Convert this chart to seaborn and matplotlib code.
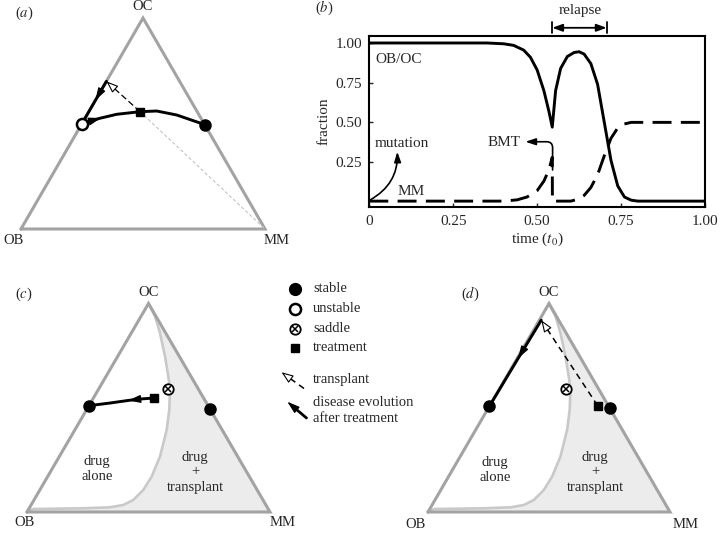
import numpy as np
import pandas as pd
import matplotlib
matplotlib.use("Agg")
import matplotlib.pyplot as plt
import matplotlib.transforms as mtransforms
import seaborn as sns

# ---------------- panel (b) data ----------------
t_obc = [0, 0.35, 0.40, 0.43, 0.46, 0.48, 0.50, 0.52, 0.535, 0.545, 0.555, 0.57,
         0.59, 0.61, 0.625, 0.64, 0.66, 0.68, 0.70, 0.72, 0.74, 0.76, 0.78, 0.80, 1.0]
y_obc = [1.0, 1.0, 0.995, 0.985, 0.955, 0.91, 0.83, 0.70, 0.57, 0.47, 0.70, 0.84,
         0.915, 0.94, 0.945, 0.93, 0.87, 0.74, 0.50, 0.26, 0.10, 0.03, 0.01, 0.004, 0.004]
t_mm = [0, 0.40, 0.44, 0.47, 0.50, 0.52, 0.535, 0.545, 0.5455, 0.60, 0.62, 0.64,
        0.66, 0.68, 0.70, 0.72, 0.74, 0.76, 0.78, 1.0]
y_mm = [0.004, 0.004, 0.012, 0.03, 0.07, 0.13, 0.20, 0.28, 0.004, 0.004, 0.015, 0.04,
        0.09, 0.17, 0.29, 0.40, 0.465, 0.49, 0.50, 0.50]
b_xticks = [0, 0.25, 0.5, 0.75, 1.0]
b_xticklabels = ["0", "0.25", "0.50", "0.75", "1.00"]
b_yticks = [0.25, 0.5, 0.75, 1.0]
b_yticklabels = ["0.25", "0.50", "0.75", "1.00"]
relapse_start, relapse_end = 0.545, 0.707

# ---------------- ternary data (OC fraction, MM fraction) ----------------
a_unstable = (0.50, 0.0)
a_stable = (0.495, 0.505)
a_treat = (0.556, 0.21)
a_tip = (0.70, 0.0)
a_traj_oc = [0.50, 0.525, 0.5436, 0.556, 0.5592, 0.5403, 0.5133, 0.495]
a_traj_mm = [0.0, 0.0615, 0.1204, 0.21, 0.2765, 0.368, 0.4495, 0.505]
a_edge_oc = [0.70, 0.61, 0.50]
a_edge_mm = [0.0, 0.0, 0.0]

sep_oc = [1.0, 0.939, 0.859, 0.7466, 0.6505, 0.5865, 0.4904, 0.394, 0.266, 0.17,
          0.1058, 0.0577, 0.0337, 0.0226, 0.0178, 0.0144, 0.006]
sep_mm = [0.0, 0.0572, 0.1177, 0.1946, 0.2563, 0.2952, 0.3404, 0.3779, 0.4143, 0.428,
          0.4257, 0.4086, 0.3795, 0.330, 0.2228, 0.019, 0.0]

c_stable_l = (0.51, 0.0)
c_stable_r = (0.495, 0.505)
c_treat = (0.5466, 0.249)
c_saddle = (0.59, 0.2865)
c_traj_oc = [0.5466, 0.5418, 0.535, 0.5226, 0.51]
c_traj_mm = [0.249, 0.194, 0.149, 0.080, 0.0]

d_stable_l = (0.508, 0.0)
d_stable_r = (0.497, 0.503)
d_treat = (0.51, 0.446)
d_saddle = (0.5885, 0.2765)
d_tip = (0.92, 0.008)
d_traj_oc = [0.92, 0.737, 0.508]
d_traj_mm = [0.008, 0.004, 0.0]

legend_labels = ["stable", "unstable", "saddle", "treatment"]

# ---------------- style ----------------
sns.set_style("ticks")
plt.rcParams["font.family"] = ["Liberation Serif", "DejaVu Serif"]
plt.rcParams["mathtext.fontset"] = "stix"
FS = 10.5
EDGE = "#a3a3a3"
SEPC = "#c9c9c9"
FILLC = "#ececec"

fig = plt.figure(figsize=(7.21, 5.33), dpi=100)
ax0 = fig.add_axes([0, 0, 1, 1])
ax0.set_xlim(0, 721)
ax0.set_ylim(533, 0)
ax0.axis("off")

TRI_A = dict(OB=(21, 229), MM=(265, 229), OC=(143, 18))
TRI_C = dict(OB=(27, 512), MM=(270, 512), OC=(148.5, 303.5))
TRI_D = dict(OB=(428, 512), MM=(670, 512), OC=(549, 303.5))


def to_xy(tri, oc, mm):
    oc = np.asarray(oc, float)
    mm = np.asarray(mm, float)
    ob = 1 - oc - mm
    x = ob * tri["OB"][0] + oc * tri["OC"][0] + mm * tri["MM"][0]
    y = ob * tri["OB"][1] + oc * tri["OC"][1] + mm * tri["MM"][1]
    return x, y


def triangle(tri):
    xs, ys = to_xy(tri, [0, 1, 0, 0], [0, 0, 1, 0])
    ax0.plot(xs, ys, color=EDGE, lw=2.2, zorder=3, solid_joinstyle="miter")
    ax0.text(tri["OC"][0], tri["OC"][1] - 11, "OC", ha="center", va="center", fontsize=FS)


def head(p_from, p_to, fc="black", lw=0.9, hl=0.75, hw=0.24, scale=10):
    """arrowhead only (short shaft along the drawn line)"""
    ax0.annotate("", xy=p_to, xytext=p_from, zorder=7,
                 arrowprops=dict(arrowstyle=f"-|>,head_length={hl},head_width={hw}",
                                 lw=lw, fc=fc, ec="black", shrinkA=0, shrinkB=0,
                                 mutation_scale=scale))


def along(p0, p1, frac):
    return (p0[0] + (p1[0] - p0[0]) * frac, p0[1] + (p1[1] - p0[1]) * frac)


def stable(tri, p, ms=8):
    x, y = to_xy(tri, *p)
    ax0.plot(x, y, "o", color="black", ms=ms, zorder=8)


def saddle(tri, p):
    x, y = to_xy(tri, *p)
    ax0.plot(x, y, "o", mfc="white", mec="black", ms=7.5, mew=1.3, zorder=8)
    ax0.plot(x, y, "x", color="black", ms=4.6, mew=1.1, zorder=9)


def treat(tri, p):
    x, y = to_xy(tri, *p)
    ax0.plot(x, y, "s", color="black", ms=5.3, zorder=8)


def separatrix(tri):
    x, y = to_xy(tri, sep_oc, sep_mm)
    mx, my = to_xy(tri, 0, 1)
    ax0.fill(np.r_[x, mx], np.r_[y, my], color=FILLC, lw=0, zorder=1)
    ax0.plot(x, y, color=SEPC, lw=1.9, zorder=2)


# ---------------- panel (a) ----------------
triangle(TRI_A)
ax0.text(14, 240, "OB", ha="center", va="center", fontsize=FS)
ax0.text(277, 240, "MM", ha="center", va="center", fontsize=FS)
ax0.text(24, 13, "($a$)", ha="center", va="center", fontsize=FS)
tx, ty = to_xy(TRI_A, *a_treat)
mx, my = to_xy(TRI_A, 0, 1)
ax0.plot([tx, mx], [ty, my], color="#c4c4c4", lw=0.8, ls=(0, (3, 2)), zorder=4)
px, py = to_xy(TRI_A, *a_tip)
ax0.plot([tx, px + (tx - px) * 0.15], [ty, py + (ty - py) * 0.15], color="black", lw=0.9,
         ls=(0, (5, 2.5)), zorder=4)
head(along((px, py), (tx, ty), 0.2), (px, py), fc="white", lw=0.8, hl=0.8, hw=0.3, scale=9)
xs, ys = to_xy(TRI_A, a_traj_oc, a_traj_mm)
ax0.plot(xs, ys, color="black", lw=2.1, zorder=5, solid_capstyle="round")
head(along((xs[0], ys[0]), (xs[1], ys[1]), 0.3), along((xs[0], ys[0]), (xs[1], ys[1]), 1.05))
xs, ys = to_xy(TRI_A, a_edge_oc, a_edge_mm)
ax0.plot(xs, ys, color="black", lw=2.1, zorder=5)
head(along((xs[0], ys[0]), (xs[1], ys[1]), 0.5), (xs[1], ys[1]))
ux, uy = to_xy(TRI_A, *a_unstable)
ax0.plot(ux, uy, "o", mfc="white", mec="black", ms=8, mew=1.8, zorder=8)
stable(TRI_A, a_stable)
treat(TRI_A, a_treat)

# ---------------- panel (c) ----------------
separatrix(TRI_C)
triangle(TRI_C)
ax0.text(24, 294, "($c$)", ha="center", va="center", fontsize=FS)
ax0.text(25, 523, "OB", ha="center", va="center", fontsize=FS)
ax0.text(283, 523, "MM", ha="center", va="center", fontsize=FS)
xs, ys = to_xy(TRI_C, c_traj_oc, c_traj_mm)
ax0.plot(xs, ys, color="black", lw=2.1, zorder=5)
head((xs[1], ys[1]), (xs[2], ys[2]))
stable(TRI_C, c_stable_l)
stable(TRI_C, c_stable_r)
treat(TRI_C, c_treat)
saddle(TRI_C, c_saddle)
ax0.text(97, 469, "drug\nalone", ha="center", va="center", fontsize=FS, linespacing=1.2)
ax0.text(195, 472, "drug\n+\ntransplant", ha="center", va="center", fontsize=FS,
         linespacing=1.2)

# ---------------- panel (d) ----------------
separatrix(TRI_D)
triangle(TRI_D)
ax0.text(470, 294, "($d$)", ha="center", va="center", fontsize=FS)
ax0.text(416, 524, "OB", ha="center", va="center", fontsize=FS)
ax0.text(686, 524, "MM", ha="center", va="center", fontsize=FS)
tx, ty = to_xy(TRI_D, *d_treat)
px, py = to_xy(TRI_D, *d_tip)
ax0.plot([tx, px + (tx - px) * 0.07], [ty, py + (ty - py) * 0.07], color="black", lw=1.1,
         ls=(0, (4, 3)), zorder=4)
head(along((px, py), (tx, ty), 0.09), (px, py), fc="white", lw=0.8, hl=0.8, hw=0.3, scale=9)
xs, ys = to_xy(TRI_D, d_traj_oc, d_traj_mm)
ax0.plot(xs, ys, color="black", lw=2.1, zorder=5)
head(along((xs[0], ys[0]), (xs[1], ys[1]), 0.6), (xs[1], ys[1]))
stable(TRI_D, d_stable_l)
stable(TRI_D, d_stable_r)
treat(TRI_D, d_treat)
saddle(TRI_D, d_saddle)
ax0.text(495, 470, "drug\nalone", ha="center", va="center", fontsize=FS, linespacing=1.2)
ax0.text(595, 472, "drug\n+\ntransplant", ha="center", va="center", fontsize=FS,
         linespacing=1.2)

# ---------------- legend ----------------
leg_y = [288.5, 308.5, 328.5, 347.5]
lx = 295
ax0.plot(lx, leg_y[0], "o", color="black", ms=8.5)
ax0.plot(lx, leg_y[1], "o", mfc="white", mec="black", ms=8, mew=1.8)
ax0.plot(lx, leg_y[2], "o", mfc="white", mec="black", ms=7.5, mew=1.3)
ax0.plot(lx, leg_y[2], "x", color="black", ms=4.6, mew=1.1)
ax0.plot(lx, leg_y[3], "s", color="black", ms=6)
for yy, lab in zip(leg_y, legend_labels):
    ax0.text(313, yy, lab, ha="left", va="center", fontsize=FS)
ax0.plot([304, 286], [388.5, 375.5], color="black", lw=1.1, ls=(0, (4, 3)))
head((287, 376.2), (281.5, 372.2), fc="white", lw=0.8, hl=0.8, hw=0.3, scale=9)
ax0.text(313, 379.5, "transplant", ha="left", va="center", fontsize=FS)
ax0.plot([306.5, 292], [418, 405.7], color="black", lw=2.0)
head((294, 407.4), (287.3, 401.7))
ax0.text(313, 410.5, "disease evolution\nafter treatment", ha="left", va="center",
         fontsize=FS, linespacing=1.2)

# ---------------- panel (b) ----------------
axb = fig.add_axes([369.3 / 721, 1 - 207 / 533, 335.7 / 721, 171 / 533])
df_obc = pd.DataFrame({"t": t_obc, "y": y_obc})
df_mm = pd.DataFrame({"t": t_mm, "y": y_mm})
sns.lineplot(data=df_obc, x="t", y="y", ax=axb, color="black", lw=2.1,
             estimator=None, sort=False)
sns.lineplot(data=df_mm, x="t", y="y", ax=axb, color="black", lw=2.1,
             estimator=None, sort=False, linestyle=(0, (6.5, 3.2)))
axb.set_xlim(0, 1)
axb.set_ylim(-0.033, 1.044)
axb.set_xticks(b_xticks)
axb.set_xticklabels(b_xticklabels)
axb.set_yticks(b_yticks)
axb.set_yticklabels(b_yticklabels)
axb.tick_params(direction="in", length=3, width=1, labelsize=FS + 0.5, pad=6)
axb.tick_params(axis="y", pad=5)
for sp in axb.spines.values():
    sp.set_linewidth(1.5)
    sp.set_color("black")
axb.set_xlabel("time ($t_0$)", fontsize=FS + 0.5, labelpad=2)
axb.set_ylabel("fraction", fontsize=FS + 0.5, labelpad=4)
axb.text(0.088, 0.893, "OB/OC", ha="center", va="center", fontsize=FS + 0.5)
axb.text(0.124, 0.063, "MM", ha="center", va="center", fontsize=FS + 0.5)
axb.text(0.098, 0.364, "mutation", ha="center", va="center", fontsize=FS + 0.5)
axb.text(0.401, 0.372, "BMT", ha="center", va="center", fontsize=FS + 0.5)
axb.annotate("", xy=(0.0834, 0.315), xytext=(0.003, 0.012),
             arrowprops=dict(arrowstyle="-|>,head_length=0.6,head_width=0.2", color="black",
                             lw=1.2, connectionstyle="arc3,rad=0.3", shrinkA=0, shrinkB=0))
axb.annotate("", xy=(0.465, 0.378), xytext=(0.546, 0.2),
             arrowprops=dict(arrowstyle="-|>,head_length=0.6,head_width=0.2", color="black",
                             lw=1.2, connectionstyle="angle,angleA=90,angleB=0,rad=6",
                             shrinkA=0, shrinkB=0))
trans = mtransforms.blended_transform_factory(axb.transData, axb.transAxes)
for xv in (relapse_start, relapse_end):
    axb.plot([xv, xv], [1.018, 1.082], color="black", lw=1.3, transform=trans, clip_on=False)
axb.annotate("", xy=(relapse_end, 1.048), xytext=(relapse_start, 1.048), xycoords=trans,
             textcoords=trans,
             arrowprops=dict(arrowstyle="<|-|>,head_length=0.6,head_width=0.22",
                             color="black", lw=1.3, shrinkA=0, shrinkB=0))
axb.text(0.628, 1.152, "relapse", ha="center", va="center", fontsize=FS + 0.5,
         transform=trans)
ax0.text(324, 8, "($b$)", ha="center", va="center", fontsize=FS)

fig.savefig("out.png", dpi=100)
